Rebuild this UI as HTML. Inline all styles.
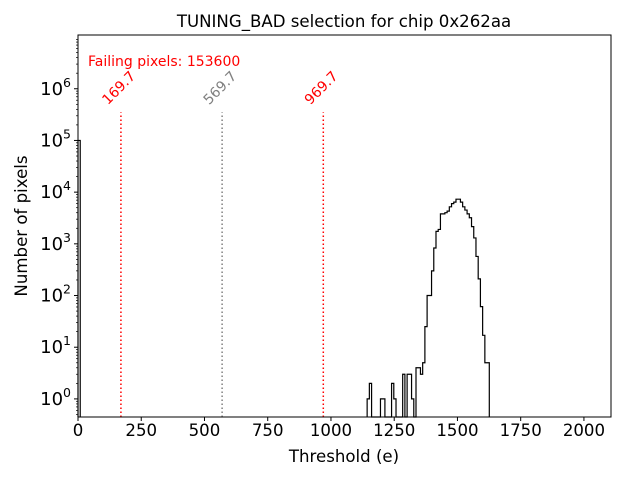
<!DOCTYPE html>
<html><head><meta charset="utf-8"><style>
html,body{margin:0;padding:0;background:#fff;}
svg{display:block;font-family:"DejaVu Sans","Liberation Sans",sans-serif;}
</style></head><body>
<svg id="chart" width="640" height="480" xmlns="http://www.w3.org/2000/svg">
<rect x="0" y="0" width="640" height="480" fill="#fff"/>
<text x="344" y="27" font-size="16.6" text-anchor="middle">TUNING_BAD selection for chip 0x262aa</text>
<text x="344" y="462" font-size="16.6" text-anchor="middle">Threshold (e)</text>
<text x="27" y="226" font-size="16.6" text-anchor="middle" transform="rotate(-90 27 226)">Number of pixels</text>
<g id="plot"></g>
<text x="88" y="66" font-size="14" fill="#ff0000">Failing pixels: 153600</text>
</svg>
<script>
const binStart = 1143;
const binWidth = 8.78;
const counts = [1,2,0,0,0,0,1,1,0,0,0,2,1,0,0,0,3,0,3,3,1,0,4,4,3,5,25,100,100,300,830,1740,1900,3800,3800,4000,4300,5200,6000,6400,7300,7300,6400,5200,4500,3800,3200,2150,1300,570,210,61,17,5,5];
const spikeValue = 100000;
const spikeWidth = 8.78;
const cutValues = [169.7, 569.7, 969.7];
const cutLabels = ["169.7", "569.7", "969.7"];
const cutColors = ["#ff0000", "#808080", "#ff0000"];
const cutTop = 350000;
const xTicks = [0,250,500,750,1000,1250,1500,1750,2000];
const yExps = [0,1,2,3,4,5,6];

const L=78,R=611,T=35,B=417;
const xMax=2107, logMin=-0.35, logMax=7.04;
const xs=v=>L+(v/xMax)*(R-L);
const ys=v=>B-(Math.log10(v)-logMin)/(logMax-logMin)*(B-T);
const NS="http://www.w3.org/2000/svg";
const g=document.getElementById('plot');
function mk(tag,attrs){const e=document.createElementNS(NS,tag);for(const k in attrs)e.setAttribute(k,attrs[k]);g.appendChild(e);return e;}

let sp=mk('path',{d:`M${xs(0)},${B} L${xs(0)},${ys(spikeValue)} L${xs(spikeWidth)},${ys(spikeValue)} L${xs(spikeWidth)},${B}`,fill:'none',stroke:'#000','stroke-width':1.2});



let d=`M${xs(binStart)},${B}`;
counts.forEach((c,i)=>{
  const x0=xs(binStart+i*binWidth), x1=xs(binStart+(i+1)*binWidth);
  const y=c>0?ys(c):B;
  d+=` L${x0},${y} L${x1},${y}`;
});
d+=` L${xs(binStart+counts.length*binWidth)},${B}`;
let hp=mk('path',{d:d,fill:'none',stroke:'#000','stroke-width':1.2});



cutValues.forEach((v,i)=>{
  const x=xs(v);
  let ln=mk('line',{x1:x,x2:x,y1:B,y2:ys(cutTop),stroke:cutColors[i],'stroke-width':1.5,'stroke-dasharray':'1.5,2.5'});
  
  
  const tx=x-13, ty=ys(cutTop)-7;
  let t=mk('text',{x:tx,y:ty,'font-size':14,fill:cutColors[i],'text-anchor':'start',transform:`rotate(-45 ${tx} ${ty})`});
  t.textContent=cutLabels[i];
  
  
});

let fr=mk('rect',{x:L,y:T,width:R-L,height:B-T,fill:'none',stroke:'#000','stroke-width':1});



xTicks.forEach(v=>{
  const x=xs(v);
  let tk=mk('line',{x1:x,x2:x,y1:B,y2:B+4,stroke:'#000'});
  
  
  let t=mk('text',{x:x,y:B+19,'font-size':16.6,'text-anchor':'middle'});
  t.textContent=String(v);
  
  
});
yExps.forEach(e=>{
  const y=ys(Math.pow(10,e));
  let tk=mk('line',{x1:L-4,x2:L,y1:y,y2:y,stroke:'#000'});
  
  
  let t=mk('text',{x:L-7,y:y+6,'font-size':18,'text-anchor':'end'});
  t.innerHTML='10<tspan dy="-8" font-size="12.5">'+e+'</tspan>';
  
  
});
for(let e=-1;e<=7;e++){for(let m=2;m<=9;m++){
  const v=m*Math.pow(10,e);const lv=Math.log10(v);
  if(lv<logMin||lv>logMax)continue;
  const y=ys(v);
  let tk=mk('line',{x1:L-2,x2:L,y1:y,y2:y,stroke:'#000','stroke-width':0.7});
  
  
}}
</script>
</body></html>
